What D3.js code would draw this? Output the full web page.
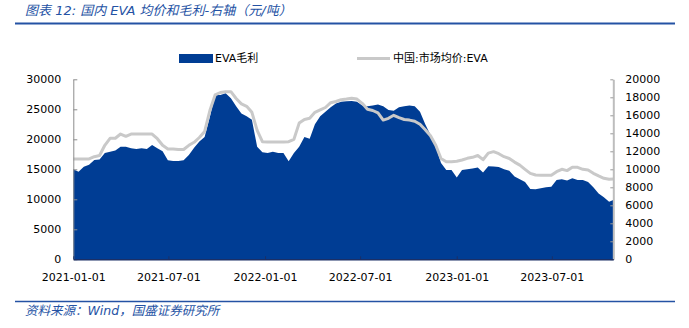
<!DOCTYPE html>
<html>
<head>
<meta charset="utf-8">
<script src="https://cdn.jsdelivr.net/npm/d3@7"></script>
<style>
  html, body { margin: 0; padding: 0; background: #ffffff; }
  svg { display: block; }
  .tick text { font-family: "DejaVu Sans", Verdana, sans-serif; font-size: 11px; fill: #000; }
</style>
</head>
<body>
<svg id="chart" width="689" height="328"></svg>
<script>
// Sample dates (every 10 days) for the EVA price and gross-margin series
const dates = [
  "2021-01-01","2021-01-11","2021-01-21","2021-01-31","2021-02-10","2021-02-20","2021-03-02","2021-03-12",
  "2021-03-22","2021-04-01","2021-04-11","2021-04-21","2021-05-01","2021-05-11","2021-05-21","2021-05-31",
  "2021-06-10","2021-06-20","2021-06-30","2021-07-10","2021-07-20","2021-07-30","2021-08-09","2021-08-19",
  "2021-08-29","2021-09-08","2021-09-18","2021-09-28","2021-10-08","2021-10-18","2021-10-28","2021-11-07",
  "2021-11-17","2021-11-27","2021-12-07","2021-12-17","2021-12-27","2022-01-06","2022-01-16","2022-01-26",
  "2022-02-05","2022-02-15","2022-02-25","2022-03-07","2022-03-17","2022-03-27","2022-04-06","2022-04-16",
  "2022-04-26","2022-05-06","2022-05-16","2022-05-26","2022-06-05","2022-06-15","2022-06-25","2022-07-05",
  "2022-07-15","2022-07-25","2022-08-04","2022-08-14","2022-08-24","2022-09-03","2022-09-13","2022-09-23",
  "2022-10-03","2022-10-13","2022-10-23","2022-11-02","2022-11-12","2022-11-22","2022-12-02","2022-12-12",
  "2022-12-22","2023-01-01","2023-01-11","2023-01-21","2023-01-31","2023-02-10","2023-02-20","2023-03-02",
  "2023-03-12","2023-03-22","2023-04-01","2023-04-11","2023-04-21","2023-05-01","2023-05-11","2023-05-21",
  "2023-05-31","2023-06-10","2023-06-20","2023-06-30","2023-07-10","2023-07-20","2023-07-30","2023-08-09",
  "2023-08-19","2023-08-29","2023-09-08","2023-09-18","2023-09-28","2023-10-08","2023-10-18","2023-10-26"
];

// 中国:市场均价:EVA (元/吨, left axis)
const price = [
  16720,16720,16720,16720,17100,17300,19000,20170,20170,20880,20500,20880,20880,20880,20880,20880,
  20100,19000,18390,18390,18300,18300,19000,19500,20300,21300,24800,27390,27800,27940,27940,26800,
  25900,25500,24500,21500,19600,19550,19550,19550,19550,19600,20000,22700,23300,23500,24500,24900,
  25300,26100,26300,26600,26700,26840,26700,26000,25000,24800,24400,23200,23500,24000,23600,23300,
  23200,23000,22500,21600,20600,19000,16800,16270,16270,16350,16550,16830,17000,17300,16600,17700,
  17940,17600,17100,16800,16200,15700,15000,14330,14050,14000,14000,14000,14600,15000,14780,15330,
  15330,15000,14900,14330,13900,13500,13330,13380
];

// EVA毛利 (元/吨, right axis)
const margin = [
  10000, 9730,10290,10500,11030,11100,11800,11950,12100,12510,12510,12330,12250,12330,12250,12700,
  12330,12000,11000,10930,10920,11000,11600,12400,13100,13600,15800,18250,18250,18440,17900,17000,
  16200,15900,15500,12500,11900,11800,11950,11800,11800,10900,11800,12500,13600,13400,15000,15900,
  16400,16900,17300,17500,17550,17600,17500,17100,17000,17100,17200,17000,16600,16500,16900,17000,
  17100,17000,16400,15000,13800,12600,10700, 9920, 9920, 9100, 9920,10000,10100,10200, 9650,10350,
  10300,10250,10000, 9850, 9200, 8900, 8600, 7800, 7780, 7900, 8000, 8070, 8800, 8900, 8750, 9000,
   8800, 8800, 8600, 8000, 7300, 6900, 6400, 6600
];

const xTickLabels = ["2021-01-01","2021-07-01","2022-01-01","2022-07-01","2023-01-01","2023-07-01"];
const leftTicks = [0,5000,10000,15000,20000,25000,30000];
const rightTicks = [0,2000,4000,6000,8000,10000,12000,14000,16000,18000,20000];

const titleText = "图表 12:  国内 EVA 均价和毛利-右轴（元/吨）";
const sourceText = "资料来源：Wind，国盛证券研究所";
const marginName = "EVA毛利";
const priceName = "中国:市场均价:EVA";

const parse = d3.utcParse("%Y-%m-%d");
const rows = dates.map((d, i) => ({ date: parse(d), price: price[i], margin: margin[i] }));

const svg = d3.select("#chart");
const plot = { left: 73.3, right: 613.3, top: 79.3, bottom: 259.3 };

const x = d3.scaleUtc()
  .domain([parse(dates[0]), parse(dates[dates.length - 1])])
  .range([plot.left, plot.right]);
const yL = d3.scaleLinear().domain([0, 30000]).range([plot.bottom, plot.top]);
const yR = d3.scaleLinear().domain([0, 20000]).range([plot.bottom, plot.top]);

const blue = "#003d94";
const gray = "#c9c9c9";
const navy = "#2452a4";

// Title and rule
svg.append("text")
  .attr("x", 25).attr("y", 15)
  .attr("font-family", "'DejaVu Sans', 'Noto Sans CJK SC', sans-serif")
  .attr("font-style", "italic")
  .attr("font-size", 13)
  .attr("fill", navy)
  .text(titleText);
svg.append("line")
  .attr("x1", 15).attr("x2", 675).attr("y1", 23.5).attr("y2", 23.5)
  .attr("stroke", navy).attr("stroke-width", 2);

// Margin area (right axis)
svg.append("path")
  .datum(rows)
  .attr("fill", blue)
  .attr("d", d3.area()
    .x(d => x(d.date))
    .y0(yR(0))
    .y1(d => yR(d.margin)));

// Price line (left axis)
svg.append("path")
  .datum(rows)
  .attr("fill", "none")
  .attr("stroke", gray)
  .attr("stroke-width", 3)
  .attr("stroke-linejoin", "round")
  .attr("d", d3.line()
    .x(d => x(d.date))
    .y(d => yL(d.price)));

// Left axis
const gL = svg.append("g")
  .attr("transform", `translate(${plot.left},0)`)
  .call(d3.axisLeft(yL).tickValues(leftTicks).tickSizeInner(-4).tickSizeOuter(0).tickPadding(12).tickFormat(d3.format("d")));
gL.select(".domain").attr("stroke", "#8c8c8c");
gL.selectAll(".tick line").attr("stroke", "#8c8c8c");

// Right axis
const gR = svg.append("g")
  .attr("transform", `translate(${plot.right},0)`)
  .call(d3.axisRight(yR).tickValues(rightTicks).tickSizeInner(-3).tickSizeOuter(0).tickPadding(12).tickFormat(d3.format("d")));
gR.select(".domain").attr("stroke", "#bdbdbd").attr("stroke-width", 2);
gR.selectAll(".tick line").attr("stroke", "#9a9a9a");

// Bottom axis
const gX = svg.append("g")
  .attr("transform", `translate(0,${plot.bottom})`)
  .call(d3.axisBottom(x).tickValues(xTickLabels.map(parse)).tickSizeInner(-3).tickSizeOuter(0).tickPadding(14).tickFormat(d3.utcFormat("%Y-%m-%d")));
gX.select(".domain").attr("stroke", "#1b2f66").attr("stroke-width", 1.5);
gX.selectAll(".tick line").attr("stroke", "#1b2f66");

// Legend
const legend = svg.append("g")
  .attr("font-family", "'DejaVu Sans', 'Noto Sans CJK SC', sans-serif")
  .attr("font-size", 11);
legend.append("rect").attr("x", 179).attr("y", 54).attr("width", 34).attr("height", 9).attr("fill", blue);
legend.append("text").attr("x", 215).attr("y", 62).attr("fill", "#000").text(marginName);
legend.append("line").attr("x1", 357).attr("x2", 390).attr("y1", 58.5).attr("y2", 58.5)
  .attr("stroke", gray).attr("stroke-width", 3);
legend.append("text").attr("x", 393).attr("y", 62).attr("fill", "#000").text(priceName);

// Source note
svg.append("line")
  .attr("x1", 15).attr("x2", 675).attr("y1", 301.5).attr("y2", 301.5)
  .attr("stroke", navy).attr("stroke-width", 1.5);
svg.append("text")
  .attr("x", 25).attr("y", 315)
  .attr("font-family", "'DejaVu Sans', 'Noto Sans CJK SC', sans-serif")
  .attr("font-style", "italic")
  .attr("font-size", 12.5)
  .attr("fill", navy)
  .text(sourceText);
</script>
</body>
</html>
